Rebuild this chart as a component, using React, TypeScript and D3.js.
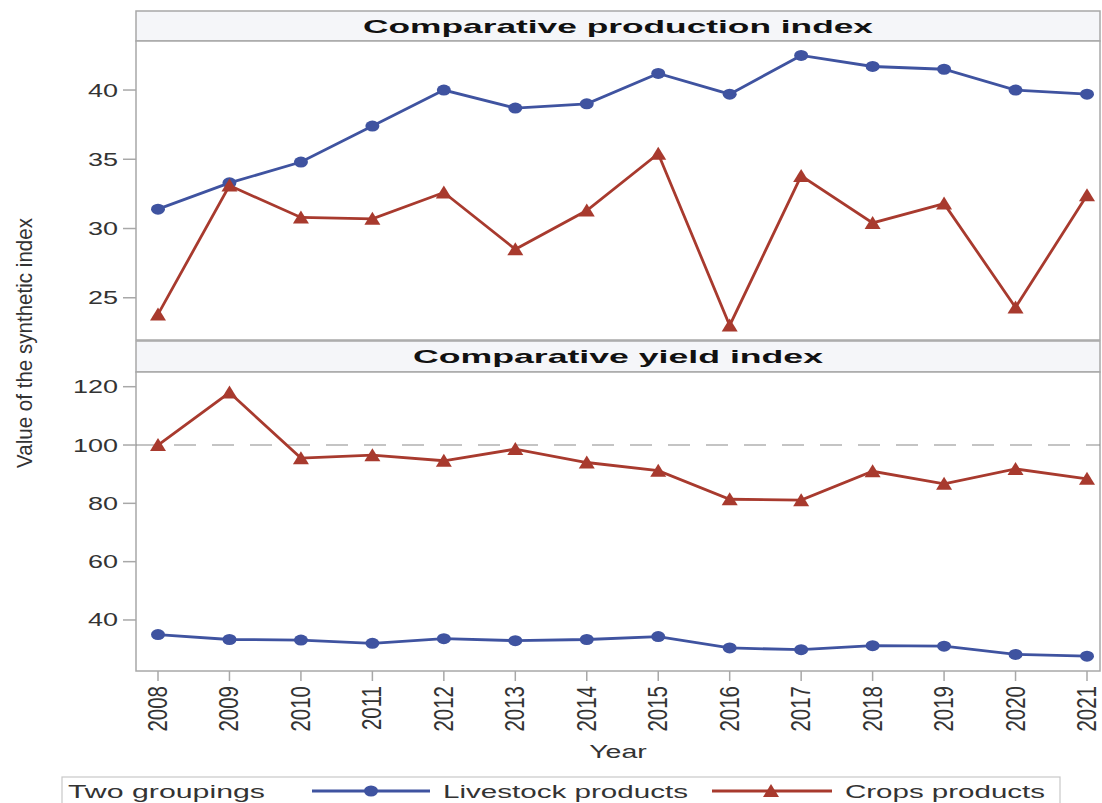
import React from "react";
import * as d3 from "d3";

const years = [2008, 2009, 2010, 2011, 2012, 2013, 2014, 2015, 2016, 2017, 2018, 2019, 2020, 2021];
const prodLivestock = [31.4, 33.3, 34.8, 37.4, 40.0, 38.7, 39.0, 41.2, 39.7, 42.5, 41.7, 41.5, 40.0, 39.7];
const prodCrops = [23.8, 33.1, 30.8, 30.7, 32.6, 28.5, 31.3, 35.4, 23.0, 33.8, 30.4, 31.8, 24.3, 32.4];
const yieldLivestock = [35.0, 33.3, 33.1, 32.0, 33.6, 32.9, 33.3, 34.3, 30.4, 29.8, 31.2, 31.0, 28.2, 27.6];
const yieldCrops = [100, 118.0, 95.5, 96.5, 94.6, 98.6, 94.0, 91.2, 81.4, 81.1, 91.0, 86.7, 91.8, 88.4];
const prodTicks = [25, 30, 35, 40];
const yieldTicks = [40, 60, 80, 100, 120];
const panelTitles = ["Comparative production index", "Comparative yield index"];
const seriesNames = ["Livestock products", "Crops products"];
const legendTitle = "Two groupings";
const yTitle = "Value of the synthetic index";
const xTitle = "Year";

const BLUE = "#3f53a0";
const RED = "#a83a2e";
const FRAME = "#a8a8a8";
const HEADER_BG = "#f5f6f9";
const FONT = "'Liberation Sans', Arial, sans-serif";
const SX = 1.5;

const left = 136;
const right = 1100;

const x = d3.scaleLinear().domain([2008, 2021]).range([158, 1087]);

const topPanel = { hTop: 11, hBottom: 41, pBottom: 340 };
const botPanel = { hTop: 341, hBottom: 372, pBottom: 671 };

const yTop = d3.scaleLinear().domain([21.95, 43.54]).range([340, 41]);
const yBot = d3.scaleLinear().domain([22.5, 125.04]).range([671, 372]);

function Circle({ cx, cy }: { cx: number; cy: number }) {
  return <ellipse cx={cx} cy={cy} rx={7} ry={5.5} fill={BLUE} />;
}
function Tri({ cx, cy }: { cx: number; cy: number }) {
  const w = 8, h = 12;
  return (
    <path
      d={`M${cx},${cy - h / 2 - 1}L${cx + w},${cy + h / 2}L${cx - w},${cy + h / 2}Z`}
      fill={RED}
    />
  );
}

function Panel({
  p,
  y,
  ticks,
  livestock,
  crops,
  title,
  titleLen,
  refLine,
}: {
  p: { hTop: number; hBottom: number; pBottom: number };
  y: d3.ScaleLinear<number, number>;
  ticks: number[];
  livestock: number[];
  crops: number[];
  title: string;
  titleLen: number;
  refLine?: number;
}) {
  const line = d3
    .line<number>()
    .x((_, i) => x(years[i]))
    .y((d) => y(d));
  return (
    <g>
      <rect x={left} y={p.hTop} width={right - left} height={p.hBottom - p.hTop} fill={HEADER_BG} stroke={FRAME} strokeWidth={1.5} />
      <text
        x={(left + right) / 2}
        y={p.hTop + 22}
        textAnchor="middle"
        fontFamily={FONT}
        fontWeight="bold"
        fontSize={19}
        textLength={titleLen}
        lengthAdjust="spacingAndGlyphs"
        fill="#111"
      >
        {title}
      </text>
      <rect x={left} y={p.hBottom} width={right - left} height={p.pBottom - p.hBottom} fill="white" stroke={FRAME} strokeWidth={1.5} />
      {ticks.map((t) => (
        <g key={t}>
          <line x1={left - 13} x2={left} y1={y(t)} y2={y(t)} stroke={FRAME} strokeWidth={1.5} />
          <text
            transform={`translate(${left - 18},${y(t) + 6.5}) scale(${SX},1)`}
            textAnchor="end"
            fontFamily={FONT}
            fontSize={18}
            fill="#333"
          >
            {t}
          </text>
        </g>
      ))}
      {refLine !== undefined && (
        <line x1={left} x2={right} y1={y(refLine)} y2={y(refLine)} stroke="#8a8a8a" strokeWidth={1.2} strokeDasharray="22 16" />
      )}
      <path d={line(livestock) || ""} fill="none" stroke={BLUE} strokeWidth={2.8} />
      <path d={line(crops) || ""} fill="none" stroke={RED} strokeWidth={2.8} />
      {livestock.map((v, i) => (
        <Circle key={"l" + i} cx={x(years[i])} cy={y(v)} />
      ))}
      {crops.map((v, i) => (
        <Tri key={"c" + i} cx={x(years[i])} cy={y(v)} />
      ))}
    </g>
  );
}

export default function App() {
  return (
    <svg width={1102} height={803} style={{ position: "absolute", left: 0, top: 0 }}>
      <rect width={1102} height={803} fill="white" />
      <Panel p={topPanel} y={yTop} ticks={prodTicks} livestock={prodLivestock} crops={prodCrops} title={panelTitles[0]} titleLen={510} />
      <Panel p={botPanel} y={yBot} ticks={yieldTicks} livestock={yieldLivestock} crops={yieldCrops} title={panelTitles[1]} titleLen={410} refLine={100} />
      {years.map((yr) => (
        <g key={yr}>
          <line x1={x(yr)} x2={x(yr)} y1={botPanel.pBottom} y2={botPanel.pBottom + 10} stroke={FRAME} strokeWidth={1.5} />
          <text
            transform={`translate(${x(yr) + 9},${botPanel.pBottom + 15}) scale(1.35,1) rotate(-90)`}
            textAnchor="end"
            fontFamily={FONT}
            fontSize={20.5}
            fill="#333"
          >
            {yr}
          </text>
        </g>
      ))}
      <text
        transform={`translate(${(left + right) / 2},758) scale(${SX},1)`}
        textAnchor="middle"
        fontFamily={FONT}
        fontSize={19}
        fill="#333"
      >
        {xTitle}
      </text>
      <text
        transform={`translate(32,343) scale(1.35,1) rotate(-90)`}
        textAnchor="middle"
        fontFamily={FONT}
        fontSize={17}
        textLength={250}
        lengthAdjust="spacingAndGlyphs"
        fill="#333"
      >
        {yTitle}
      </text>
      <g>
        <rect x={62} y={777} width={998} height={30} fill="white" stroke="#c8c8c8" strokeWidth={1.2} />
        <text x={68} y={798} fontFamily={FONT} fontSize={18} textLength={197} lengthAdjust="spacingAndGlyphs" fill="#333">
          {legendTitle}
        </text>
        <line x1={312} x2={430} y1={791} y2={791} stroke={BLUE} strokeWidth={2.8} />
        <Circle cx={371} cy={791} />
        <text x={443} y={798} fontFamily={FONT} fontSize={18} textLength={245} lengthAdjust="spacingAndGlyphs" fill="#333">
          {seriesNames[0]}
        </text>
        <line x1={712} x2={832} y1={791} y2={791} stroke={RED} strokeWidth={2.8} />
        <Tri cx={771} cy={791} />
        <text x={845} y={798} fontFamily={FONT} fontSize={18} textLength={200} lengthAdjust="spacingAndGlyphs" fill="#333">
          {seriesNames[1]}
        </text>
      </g>
    </svg>
  );
}
